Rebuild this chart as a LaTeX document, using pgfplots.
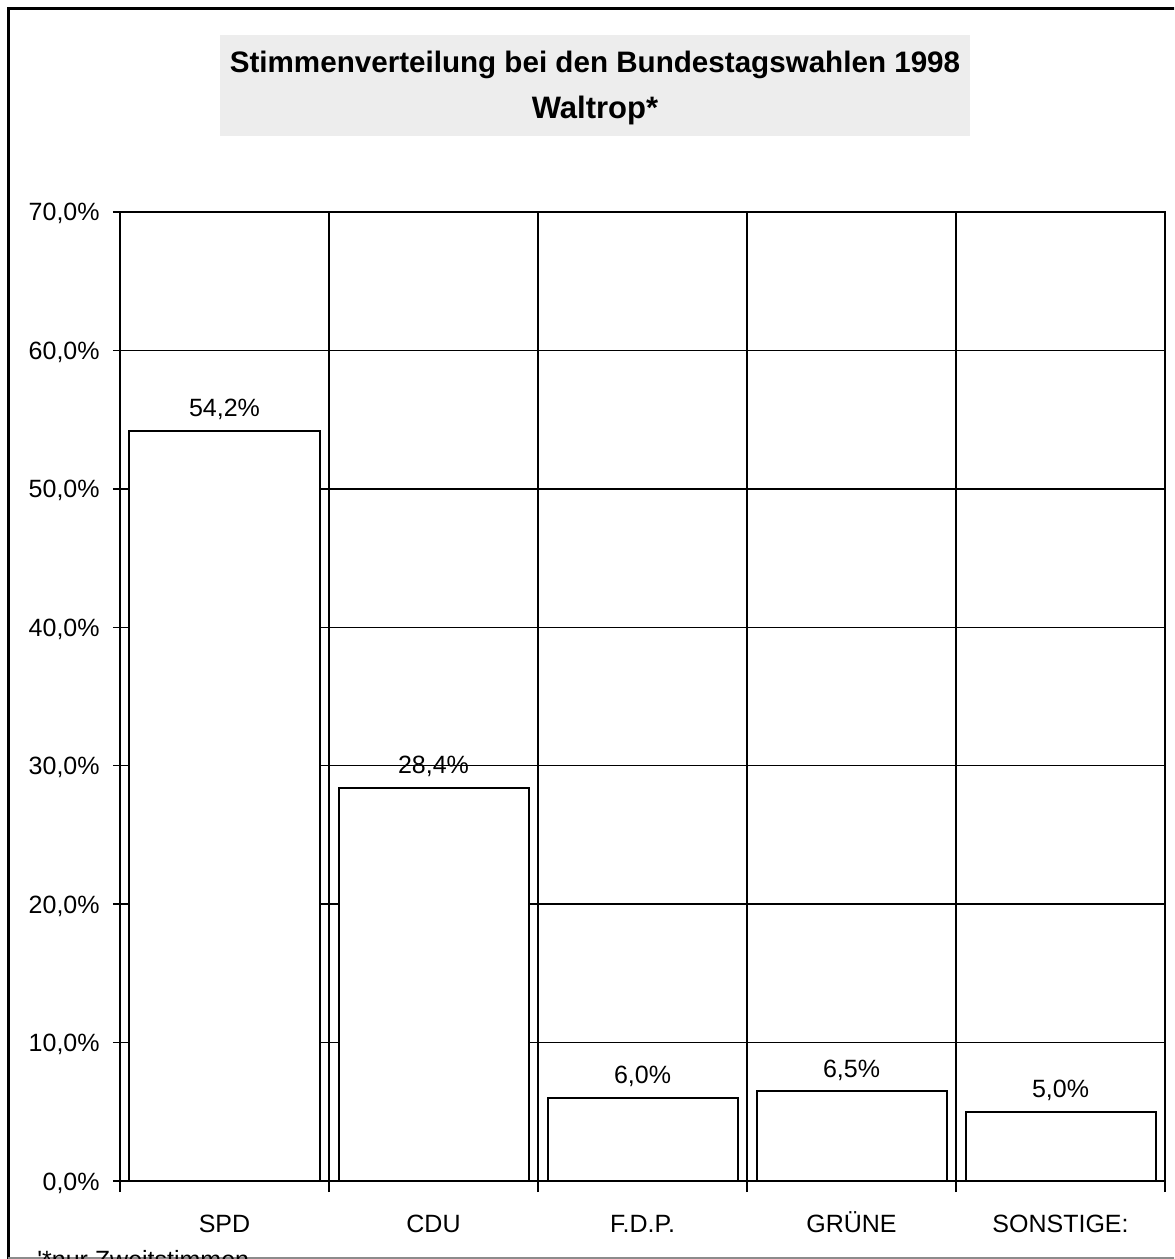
\documentclass[border=0pt]{standalone}
\usepackage{fontspec}
\setmainfont{Liberation Sans}
\usepackage{pgfplots}
\pgfplotsset{compat=1.18}
\begin{document}
\begin{tikzpicture}
\useasboundingbox (0pt,0pt) rectangle (587pt,629.5pt);
\clip (0pt,0pt) rectangle (587pt,629.5pt);
% frame
\draw[line width=1.5pt] (4pt,-5pt) -- (4pt,625pt) -- (600pt,625pt);
\draw[black!45, line width=0.6pt] (4pt,0.5pt) -- (590pt,0.5pt);
% title box
\fill[black!7] (110pt,561.5pt) rectangle (485pt,612pt);
\node[font=\bfseries\fontsize{14.8}{16}\selectfont, anchor=base, inner sep=0pt] at (297.5pt,593pt) {Stimmenverteilung bei den Bundestagswahlen 1998};
\node[font=\bfseries\fontsize{15.5}{17}\selectfont, anchor=base, inner sep=0pt] at (297.5pt,570pt) {Waltrop*};
% footnote
\node[font=\fontsize{12.5}{14}\selectfont, anchor=base west, inner sep=0pt] at (18.5pt,-5pt) {\textquotesingle*nur Zweitstimmen};
\begin{axis}[
  at={(60pt,39pt)}, anchor=south west,
  scale only axis, width=522.5pt, height=484.5pt,
  xmin=-0.5, xmax=4.5, ymin=0, ymax=70,
  ybar, bar width=95pt,
  xtick={0,...,4},
  xticklabels={SPD,CDU,F.D.P.,GRÜNE,SONSTIGE:},
  minor xtick={-0.5,0.5,...,4.5},
  xminorgrids=true,
  ytick={0,10,...,70},
  ymajorgrids=true,
  tick align=outside,
  tick pos=left,
  major x tick style={draw=none},
  minor tick length=5.5pt,
  major tick length=3.5pt,
  every tick/.style={black, line width=0.75pt},
  grid style={black, line width=0.75pt},
  minor grid style={black, line width=0.75pt},
  axis line style={black, line width=0.75pt},
  tick label style={font=\fontsize{12.5}{14}\selectfont},
  xticklabel style={inner sep=0pt, text height=9pt, text depth=0pt, yshift=-13pt},
  yticklabel style={inner sep=0pt, text height=9pt, text depth=0pt, xshift=-6.5pt},
  /pgf/number format/assume math mode=true,
  yticklabel={\pgfmathprintnumber[fixed,fixed zerofill,precision=1,use comma]{\tick}\%},
  nodes near coords={\pgfmathprintnumber[fixed,fixed zerofill,precision=1,use comma,assume math mode=true]{\pgfplotspointmeta}\%},
  every node near coord/.append style={font=\fontsize{12.5}{14}\selectfont, inner sep=0pt, text depth=0pt, anchor=south, yshift=6.5pt},
]
\addplot[draw=black, fill=white, line width=1pt] coordinates {(0,54.2) (1,28.4) (2,6.0) (3,6.5) (4,5.0)};
\end{axis}
\end{tikzpicture}
\end{document}
